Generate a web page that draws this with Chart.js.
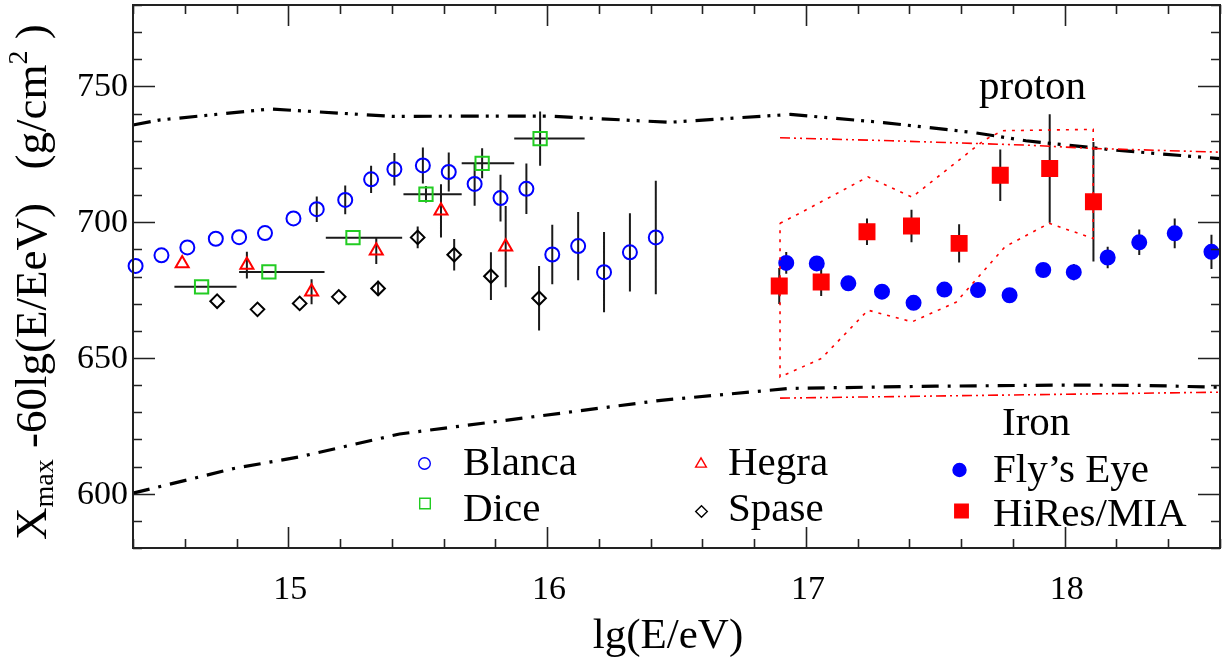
<!DOCTYPE html>
<html>
<head>
<meta charset="utf-8">
<script src="https://cdn.jsdelivr.net/npm/chart.js@4.4.1/dist/chart.umd.min.js"></script>
<style>
  html, body { margin: 0; padding: 0; background: #fff; }
  #wrap { width: 1222px; height: 662px; }
</style>
</head>
<body>
<div id="wrap"><canvas id="chart" width="1222" height="662"></canvas></div>
<script>
const SERIF = "'Liberation Serif', 'Times New Roman', serif";
Chart.defaults.font.family = SERIF;

// axis ticks
const xTicks = [15, 16, 17, 18];
const yTicks = [600, 650, 700, 750];

// Blanca
const blancaE = [14.41, 14.51, 14.61, 14.72, 14.81, 14.91, 15.02, 15.11, 15.22, 15.32, 15.41,
  15.52, 15.62, 15.72, 15.82, 15.92, 16.02, 16.12, 16.22, 16.32, 16.42];
const blancaX = [683.9, 687.8, 690.7, 693.9, 694.5, 696.0, 701.4, 704.8, 708.2, 715.8, 719.5,
  720.9, 718.5, 714.1, 708.9, 712.3, 688.1, 691.2, 681.6, 688.9, 694.4];
const blancaErr = [0, 0, 0, 0, 0, 0, 0, 4.7, 5.3, 5.0, 6.0,
  6.6, 7.2, 8.0, 8.6, 9.3, 11.0, 12.6, 14.8, 14.4, 20.9];

// Hegra
const hegraE = [14.59, 14.84, 15.09, 15.34, 15.59, 15.84];
const hegraX = [684.8, 684.2, 674.4, 689.5, 704.2, 691.0];
const hegraErr = [0, 4.9, 4.6, 4.9, 9.8, 15.0];

// Dice (energy bins)
const diceE = [14.665, 14.925, 15.25, 15.532, 15.749, 15.973];
const diceX = [676.2, 681.7, 694.3, 710.3, 721.7, 730.8];
const diceErr = [0, 0, 0, 3.0, 5.5, 10.0];
const diceLo = [14.56, 14.81, 15.145, 15.445, 15.67, 15.873];
const diceHi = [14.80, 15.14, 15.44, 15.67, 15.873, 16.145];

// Spase
const spaseE = [14.725, 14.881, 15.044, 15.195, 15.347, 15.5, 15.641, 15.783, 15.969];
const spaseX = [670.9, 667.9, 670.1, 672.5, 675.6, 694.4, 688.0, 680.1, 672.0];
const spaseErr = [0, 0, 0, 0, 2.8, 4.0, 5.8, 8.8, 11.9];

// Fly's Eye
const flysE = [16.924, 17.042, 17.164, 17.294, 17.416, 17.535, 17.665, 17.787, 17.917,
  18.035, 18.166, 18.288, 18.425, 18.567];
const flysX = [685.0, 684.8, 677.5, 674.4, 670.3, 675.2, 675.0, 673.1, 682.4,
  681.6, 687.0, 692.6, 695.9, 689.1];
const flysErr = [4.0, 2, 2, 2, 2, 2, 2, 2, 2, 3.0, 4.0, 4.7, 5.5, 6.3];

// HiRes/MIA
const hiresE = [16.897, 17.059, 17.236, 17.408, 17.592, 17.751, 17.942, 18.111];
const hiresX = [676.5, 678.0, 696.5, 698.6, 692.2, 717.3, 719.8, 707.5];
const hiresErr = [6.6, 5.2, 4.9, 6.0, 7.0, 9.5, 20.0, 22.0];

// model curves
const protonE = [14.4, 14.5, 14.93, 15.4, 16.0, 16.47, 16.94, 17.3, 17.65, 17.85, 18.2, 18.6];
const protonX = [735.8, 737.6, 741.7, 739.0, 739.1, 736.8, 739.7, 736.7, 733.0, 730.0, 726.5, 723.4];
const ironE = [14.4, 14.79, 15.04, 15.43, 16.44, 16.94, 17.5, 18.0, 18.3, 18.6];
const ironX = [600.2, 609.3, 613.5, 622.0, 634.4, 638.8, 639.6, 640.0, 639.9, 639.2];
const proton2E = [16.9, 17.33, 17.85, 18.1, 18.6];
const proton2X = [731.1, 730.0, 728.4, 727.2, 725.8];
const iron2E = [16.9, 18.6];
const iron2X = [635.2, 637.4];

// HiRes/MIA band outline
const bandE = [16.9, 16.98, 17.24, 17.41, 17.69, 17.76, 18.11, 18.11, 17.94, 17.77, 17.58,
  17.41, 17.24, 17.06, 16.9, 16.9];
const bandX = [699.6, 703.5, 716.7, 709.2, 730.3, 733.7, 734.2, 694.0, 699.6, 691.0, 670.5,
  663.3, 667.6, 649.8, 643.0, 699.6];

const pts = (xs, ys) => xs.map((x, i) => ({ x: x, y: ys[i] }));

const BLUE = '#0000ff', RED = '#ff0000', GREEN = '#22cc22';

function curve(xs, ys, color, width, dash) {
  return {
    data: pts(xs, ys), showLine: true, pointRadius: 0, borderColor: color,
    borderWidth: width, borderDash: dash, fill: false, clip: false
  };
}
function series(label, xs, ys, style, r, stroke, fill, err) {
  return {
    label: label, data: pts(xs, ys), pointStyle: style, pointRadius: r,
    borderColor: stroke, backgroundColor: fill, pointBorderWidth: 2,
    showLine: false, yErr: err, clip: false
  };
}

const datasets = [
  curve(bandE, bandX, RED, 1.6, [3, 6]),
  curve(proton2E, proton2X, RED, 1.6, [10, 4, 2, 4, 2, 4]),
  curve(iron2E, iron2X, RED, 1.6, [10, 4, 2, 4, 2, 4]),
  curve(protonE, protonX, '#000', 3.2, [18, 7, 3, 7, 3, 9]),
  curve(ironE, ironX, '#000', 3.2, [17, 9, 3, 9]),
  series('Blanca', blancaE, blancaX, 'circle', 7, BLUE, 'rgba(0,0,0,0)', blancaErr),
  series('Dice', diceE, diceX, 'rect', 9.4, GREEN, 'rgba(0,0,0,0)', diceErr),
  series('Hegra', hegraE, hegraX, 'triangle', 7.5, RED, 'rgba(0,0,0,0)', hegraErr),
  series('Spase', spaseE, spaseX, 'rectRot', 6.8, '#000', 'rgba(0,0,0,0)', spaseErr),
  series("Fly\u2019s Eye", flysE, flysX, 'circle', 7, BLUE, BLUE, flysErr),
  series('HiRes/MIA', hiresE, hiresX, 'rect', 10.6, RED, RED, hiresErr)
];
datasets[6].xLo = diceLo;
datasets[6].xHi = diceHi;

// small marker for the legend block
function marker(ctx, style, x, y, r, stroke, fill) {
  ctx.save();
  ctx.lineWidth = 1.4;
  ctx.strokeStyle = stroke;
  ctx.fillStyle = fill || 'rgba(0,0,0,0)';
  ctx.beginPath();
  if (style === 'circle') {
    ctx.arc(x, y, r, 0, Math.PI * 2);
  } else if (style === 'rect') {
    const s = r * Math.SQRT1_2;
    ctx.rect(x - s, y - s, 2 * s, 2 * s);
  } else if (style === 'rectRot') {
    ctx.moveTo(x, y - r); ctx.lineTo(x + r, y); ctx.lineTo(x, y + r); ctx.lineTo(x - r, y);
  } else if (style === 'triangle') {
    ctx.moveTo(x, y - r);
    ctx.lineTo(x + r * 0.866, y + r / 2);
    ctx.lineTo(x - r * 0.866, y + r / 2);
  }
  ctx.closePath();
  if (fill) ctx.fill();
  ctx.stroke();
  ctx.restore();
}

const legendPos = [
  { ds: 5, mx: 424.5, my: 463.5, tx: 463, ty: 475, r: 5.8 },
  { ds: 6, mx: 425, my: 503.5, tx: 463, ty: 521, r: 7.5 },
  { ds: 7, mx: 701, my: 464, tx: 728, ty: 475, r: 6.2 },
  { ds: 8, mx: 701.5, my: 511.5, tx: 728, ty: 521, r: 5.8 },
  { ds: 9, mx: 959.5, my: 470, tx: 993, ty: 482, r: 6.5 },
  { ds: 10, mx: 961.5, my: 511, tx: 993, ty: 526, r: 9.5 }
];

// scales get a fixed size and no extra label overhang
function fixBox(w, h) {
  return s => {
    if (w) s.width = w;
    if (h) s.height = h;
    s.paddingTop = s.paddingBottom = s.paddingLeft = s.paddingRight = 0;
  };
}

const decor = {
  id: 'decor',
  beforeDatasetsDraw(chart) {
    // error bars under the symbols
    const { ctx, scales: { x, y } } = chart;
    ctx.save();
    ctx.strokeStyle = '#1a1a1a';
    ctx.lineWidth = 2;
    ctx.beginPath();
    chart.data.datasets.forEach(ds => {
      if (!ds.yErr) return;
      ds.data.forEach((p, i) => {
        const e = ds.yErr[i];
        const px = x.getPixelForValue(p.x);
        if (e > 0) {
          ctx.moveTo(px, y.getPixelForValue(p.y - e));
          ctx.lineTo(px, y.getPixelForValue(p.y + e));
        }
        if (ds.xLo) {
          const py = y.getPixelForValue(p.y);
          ctx.moveTo(x.getPixelForValue(ds.xLo[i]), py);
          ctx.lineTo(x.getPixelForValue(ds.xHi[i]), py);
        }
      });
    });
    ctx.stroke();
    ctx.restore();
  },
  afterDraw(chart) {
    const { ctx, chartArea: a, scales: { x, y } } = chart;
    ctx.save();
    // frame
    ctx.strokeStyle = '#222';
    ctx.lineWidth = 2;
    ctx.strokeRect(a.left, a.top, a.right - a.left, a.bottom - a.top);
    // inward ticks on all four sides
    ctx.lineWidth = 1.6;
    ctx.beginPath();
    for (let i = 72; i <= 93; i++) {
      const px = Math.round(x.getPixelForValue(i / 5)) + 0.5;
      const len = i % 5 === 0 ? 21 : 9;
      ctx.moveTo(px, a.bottom); ctx.lineTo(px, a.bottom - len);
      ctx.moveTo(px, a.top); ctx.lineTo(px, a.top + len);
    }
    for (let v = 580; v <= 780; v += 10) {
      const py = Math.round(y.getPixelForValue(v)) + 0.5;
      const len = v % 50 === 0 ? 22 : 9;
      ctx.moveTo(a.left, py); ctx.lineTo(a.left + len, py);
      ctx.moveTo(a.right, py); ctx.lineTo(a.right - len, py);
    }
    ctx.stroke();

    ctx.fillStyle = '#000';
    // tick labels
    ctx.font = '34px ' + SERIF;
    ctx.textAlign = 'center';
    ctx.textBaseline = 'alphabetic';
    xTicks.forEach(v => ctx.fillText(String(v), x.getPixelForValue(v) + 2, 599));
    ctx.textAlign = 'right';
    ctx.textBaseline = 'middle';
    yTicks.forEach(v => ctx.fillText(String(v), a.left - 5, y.getPixelForValue(v) + 1));

    ctx.textAlign = 'left';
    ctx.textBaseline = 'alphabetic';
    // legend block
    ctx.font = '41px ' + SERIF;
    legendPos.forEach(l => {
      const ds = chart.data.datasets[l.ds];
      const filled = ds.backgroundColor !== 'rgba(0,0,0,0)' ? ds.backgroundColor : null;
      marker(ctx, ds.pointStyle, l.mx, l.my, l.r, ds.borderColor, filled);
      ctx.fillStyle = '#000';
      ctx.fillText(ds.label, l.tx, l.ty);
    });
    ctx.fillText('proton', 979, 99);
    ctx.fillText('Iron', 1002, 435);

    // x title
    ctx.font = '43px ' + SERIF;
    ctx.textAlign = 'center';
    ctx.fillText('lg(E/eV)', 668, 648);

    // y title with sub/superscripts
    ctx.textAlign = 'left';
    ctx.translate(46, 540);
    ctx.rotate(-Math.PI / 2);
    let cx = 0;
    const seg = (t, size, dy) => {
      ctx.font = size + 'px ' + SERIF;
      ctx.fillText(t, cx, dy);
      cx += ctx.measureText(t).width;
    };
    seg('X', 45, 0);
    seg('max', 28, 7);
    seg(' -60lg(E/EeV)', 45, 0);
    seg('   (g/cm', 45, 0);
    seg('2', 28, -19);
    seg(' )', 45, 0);
    ctx.restore();
  }
};

new Chart(document.getElementById('chart'), {
  type: 'scatter',
  data: { datasets: datasets },
  options: {
    responsive: false,
    animation: false,
    layout: { autoPadding: false, padding: { top: 5, right: 2, left: 0, bottom: 0 } },
    plugins: { legend: { display: false }, tooltip: { enabled: false } },
    scales: {
      x: {
        type: 'linear', min: 14.4, max: 18.6,
        afterBuildTicks: s => { s.ticks = xTicks.map(v => ({ value: v })); },
        afterFit: fixBox(0, 114),
        grid: { display: false, drawTicks: false },
        border: { display: false },
        ticks: { display: false }
      },
      y: {
        type: 'linear', min: 580, max: 780,
        afterBuildTicks: s => { s.ticks = yTicks.map(v => ({ value: v })); },
        afterFit: fixBox(133, 0),
        grid: { display: false, drawTicks: false },
        border: { display: false },
        ticks: { display: false }
      }
    }
  },
  plugins: [decor]
});
</script>
</body>
</html>
